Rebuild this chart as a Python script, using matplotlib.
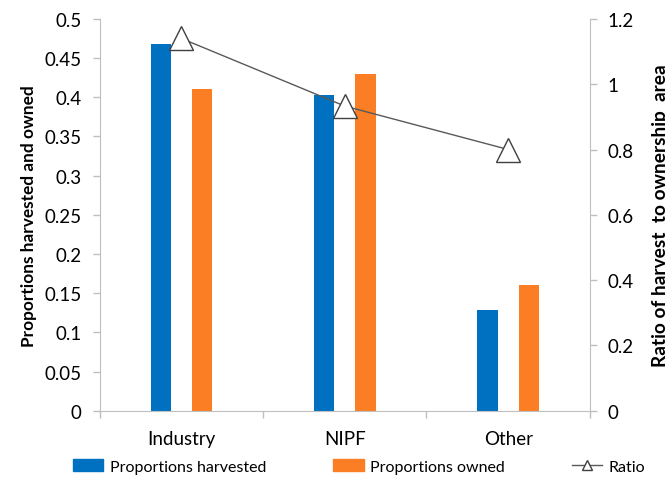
import matplotlib
matplotlib.use('Agg')
import matplotlib.pyplot as plt
from matplotlib.lines import Line2D
from matplotlib.patches import Patch
import numpy as np

plt.rcParams['font.family'] = ['Lato', 'DejaVu Sans']

# data
categories = ['Industry', 'NIPF', 'Other']
harvested = [0.468, 0.403, 0.128]
owned = [0.410, 0.430, 0.160]
ratio = [1.14, 0.933, 0.80]

blue = '#0070C0'
orange = '#FB7D24'
grid_gray = '#BFBFBF'

fig = plt.figure(figsize=(6.65, 4.85), dpi=100)
ax = fig.add_axes([0.150, 0.151, 0.737, 0.808])

x = np.arange(len(categories))
w = 0.125
ax.bar(x - 0.126, harvested, width=w, color=blue, zorder=2)
ax.bar(x + 0.126, owned, width=w, color=orange, zorder=2)

ax.set_xlim(-0.5, 2.5)
ax.set_ylim(0, 0.5)
ax.set_yticks(np.arange(0, 0.51, 0.05))
ax.set_yticklabels(['0', '0.05', '0.1', '0.15', '0.2', '0.25', '0.3',
                    '0.35', '0.4', '0.45', '0.5'])
ax.set_xticks(x)
ax.set_xticklabels(categories)
ax.set_xticks([-0.5, 0.5, 1.5, 2.5], minor=True)
ax.tick_params(axis='x', which='major', length=0, pad=14, labelsize=13.5)
ax.tick_params(axis='x', which='minor', length=5, color=grid_gray, width=1)
ax.tick_params(axis='y', length=5, color=grid_gray, width=1, labelsize=13.5,
               pad=8)
for s in ['top', 'right']:
    ax.spines[s].set_visible(False)
for s in ['left', 'bottom']:
    ax.spines[s].set_color(grid_gray)
ax.set_ylabel('Proportions harvested and owned', fontsize=12.4,
              fontweight='bold', labelpad=5)

# ratio on the second axis
ax2 = ax.twinx()
ax2.plot(x, ratio, color='#595959', lw=1, marker='^', markersize=17,
         markerfacecolor='white', markeredgecolor='#404040',
         markeredgewidth=1, zorder=3)
ax2.set_ylim(0, 1.2)
ax2.set_yticks(np.arange(0, 1.21, 0.2))
ax2.set_yticklabels(['0', '0.2', '0.4', '0.6', '0.8', '1', '1.2'])
ax2.tick_params(axis='y', length=5, color=grid_gray, width=1, labelsize=13.5,
                pad=8)
for s in ['top', 'left', 'bottom']:
    ax2.spines[s].set_visible(False)
ax2.spines['right'].set_color(grid_gray)
ax2.set_ylabel('Ratio of harvest  to ownership  area', fontsize=13.8,
               fontweight='bold', labelpad=13)

handles = [Patch(color=blue), Patch(color=orange),
           Line2D([], [], color='#595959', lw=1, marker='^', markersize=7,
                  markerfacecolor='white', markeredgecolor='#404040')]
fig.legend(handles, ['Proportions harvested', 'Proportions owned', 'Ratio'],
           loc='center', bbox_to_anchor=(0.54, 0.036), ncol=3, frameon=False,
           fontsize=11.5, handlelength=1.9, handleheight=0.8,
           handletextpad=0.4, columnspacing=4.2)

fig.savefig('out.png', dpi=100)
